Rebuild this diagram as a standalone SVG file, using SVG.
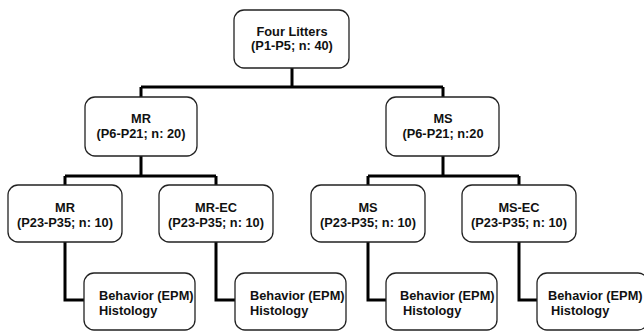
<svg xmlns="http://www.w3.org/2000/svg" width="644" height="332" viewBox="0 0 644 332">
<style>
.box{fill:#fff;stroke:#222;stroke-width:1.3}
.t{font-family:"Liberation Sans",Arial,sans-serif;font-size:12.8px;font-weight:bold;fill:#111;text-anchor:middle}
.l{text-anchor:start}
.c{fill:none;stroke:#000;stroke-width:3}
</style>
<rect width="644" height="332" fill="#fff"/>
<g id="connectors" class="c">
<path d="M292 68V87M141 87H443M141 87V97M443 87V97"/>
<path d="M141 156V176M65 176H216M65 176V185M216 176V185"/>
<path d="M443 156V176M368 176H519M368 176V185M519 176V185"/>
<path d="M65 242V300H84M216 242V300H235M368 242V300H386M519 242V300H537"/>
</g>
<g id="n-four">
<rect class="box" x="234" y="10" width="115" height="58" rx="10"/>
<text class="t" x="292" y="36">Four Litters</text>
<text class="t" x="292" y="50">(P1-P5; n: 40)</text>
</g>
<g id="n-mr">
<rect class="box" x="85" y="97" width="112" height="59" rx="10"/>
<text class="t" x="141" y="123">MR</text>
<text class="t" x="141" y="138">(P6-P21; n: 20)</text>
</g>
<g id="n-ms">
<rect class="box" x="386" y="97" width="113" height="59" rx="10"/>
<text class="t" x="443" y="123">MS</text>
<text class="t" x="443" y="138">(P6-P21; n:20</text>
</g>
<g id="n-mr2">
<rect class="box" x="8" y="185" width="114" height="57" rx="10"/>
<text class="t" x="65" y="212">MR</text>
<text class="t" x="65" y="227">(P23-P35; n: 10)</text>
</g>
<g id="n-mrec">
<rect class="box" x="159" y="185" width="114" height="57" rx="10"/>
<text class="t" x="216" y="212">MR-EC</text>
<text class="t" x="216" y="227">(P23-P35; n: 10)</text>
</g>
<g id="n-ms2">
<rect class="box" x="311" y="185" width="114" height="57" rx="10"/>
<text class="t" x="368" y="212">MS</text>
<text class="t" x="368" y="227">(P23-P35; n: 10)</text>
</g>
<g id="n-msec">
<rect class="box" x="462" y="185" width="114" height="57" rx="10"/>
<text class="t" x="519" y="212">MS-EC</text>
<text class="t" x="519" y="227">(P23-P35; n: 10)</text>
</g>
<g id="n-beh1">
<rect class="box" x="84" y="273" width="111" height="57" rx="10"/>
<text class="t l" x="99" y="300">Behavior (EPM)</text>
<text class="t l" x="99" y="315">Histology</text>
</g>
<g id="n-beh2">
<rect class="box" x="235" y="273" width="111" height="57" rx="10"/>
<text class="t l" x="250" y="300">Behavior (EPM)</text>
<text class="t l" x="250" y="315">Histology</text>
</g>
<g id="n-beh3">
<rect class="box" x="386" y="273" width="111" height="57" rx="10"/>
<text class="t l" x="400" y="300">Behavior (EPM)</text>
<text class="t l" x="403" y="315">Histology</text>
</g>
<g id="n-beh4">
<rect class="box" x="537" y="273" width="111" height="57" rx="10"/>
<text class="t l" x="548" y="300">Behavior (EPM)</text>
<text class="t l" x="551" y="315">Histology</text>
</g>
</svg>
